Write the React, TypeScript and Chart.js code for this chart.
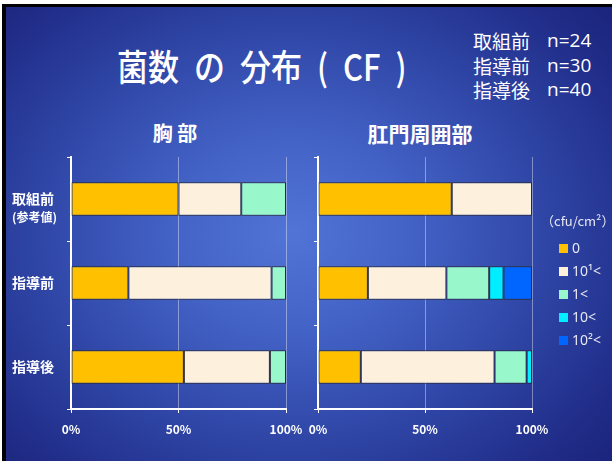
import React, { useEffect, useRef } from "react";
import { Chart, registerables } from "chart.js";

Chart.register(...registerables);

const categories = ["取組前", "指導前", "指導後"];
const legendLabels = ["0", "10¹<", "1<", "10<", "10²<"];
const seriesColors = ["#FFC000", "#FDF0DC", "#99F7CC", "#00EEFF", "#0066FF"];
const xTicks = [0, 50, 100];

// 胸部 (chest) percentages
const chest0 = [50, 26.7, 52.5];
const chest10_1 = [29.2, 66.6, 40];
const chest1 = [20.8, 6.7, 7.5];

// 肛門周囲部 (perianal) percentages
const anal0 = [62.5, 23.3, 20];
const anal10_1 = [37.5, 36.7, 62.5];
const anal1 = [null, 20, 15];
const anal10 = [null, 6.7, 2.5];
const anal10_2 = [null, 13.3, null];

const FONT = "'Noto Sans CJK JP', 'Noto Sans', sans-serif";

function makeDatasets(series: (number | null)[][]) {
  return series.map((data, i) => ({
    label: legendLabels[i],
    data,
    backgroundColor: seriesColors[i],
    borderColor: "#2a2a2a",
    borderWidth: 1,
    borderSkipped: false as const,
    categoryPercentage: 1,
    barPercentage: 0.4,
  }));
}

function BarPanel(props: {
  series: (number | null)[][];
  showLabels: boolean;
  left: number;
  width: number;
  padLeft: number;
  yWidth: number;
  padRight: number;
}) {
  const ref = useRef<HTMLCanvasElement | null>(null);
  useEffect(() => {
    if (!ref.current) return;
    const chart = new Chart(ref.current, {
      type: "bar",
      data: { labels: categories, datasets: makeDatasets(props.series) as any },
      options: {
        animation: false,
        responsive: false,
        indexAxis: "y",
        layout: { padding: { left: props.padLeft, top: 17, right: props.padRight, bottom: 0 } },
        plugins: { legend: { display: false }, tooltip: { enabled: false } },
        scales: {
          x: {
            stacked: true,
            min: 0,
            max: 100,
            afterBuildTicks: (s: any) => {
              s.ticks = xTicks.map((v) => ({ value: v }));
            },
            afterFit: (s: any) => {
              s.height = 31;
            },
            grid: {
              color: "rgba(255,255,255,0.4)",
              tickColor: "#ffffff",
              tickLength: 4,
              lineWidth: 1,
            },
            border: { color: "#ffffff", width: 2 },
            ticks: {
              color: "#ffffff",
              padding: 9,
              font: { family: FONT, size: 12, weight: "bold" },
              callback: (v: any) => v + "%",
            },
          },
          y: {
            stacked: true,
            afterFit: (s: any) => {
              s.width = props.yWidth;
            },
            grid: {
              drawOnChartArea: false,
              tickColor: "#ffffff",
              tickLength: 4,
              offset: true,
            },
            border: { color: "#ffffff", width: 2 },
            ticks: {
              display: props.showLabels,
              crossAlign: "far",
              color: "#ffffff",
              font: { family: FONT, size: 14, weight: "bold" },
            },
          },
        },
      } as any,
    });
    return () => chart.destroy();
  }, []);
  return (
    <canvas
      ref={ref}
      width={props.width}
      height={300}
      style={{ position: "absolute", left: props.left, top: 140, width: props.width, height: 300 }}
    />
  );
}

const txt = (extra: React.CSSProperties): React.CSSProperties => ({
  position: "absolute",
  color: "#ffffff",
  fontFamily: FONT,
  whiteSpace: "nowrap",
  lineHeight: 1,
  ...extra,
});

export default function App() {
  const nRows = [
    ["取組前", "n=24"],
    ["指導前", "n=30"],
    ["指導後", "n=40"],
  ];
  return (
    <div style={{ position: "fixed", left: 0, top: 0, width: 612, height: 461, background: "#ffffff", overflow: "hidden" }}>
      <div
        style={{
          position: "absolute",
          left: 2,
          top: 4,
          right: 0,
          bottom: 0,
          borderLeft: "4px solid #000",
          borderTop: "3px solid #000",
          background:
            "radial-gradient(ellipse 72% 78% at 47% 50%, #5274d6 0%, #4362c6 28%, #2f46a6 58%, #202c88 85%, #1a2379 100%)",
        }}
      />
      {/* Title */}
      <div style={txt({ left: 117, top: 65, fontSize: 31, fontWeight: 500, wordSpacing: 8, transform: "translateY(-50%) scaleY(1.18)" })}>
        菌数 の 分布 ( CF )
      </div>
      {/* n counts */}
      {nRows.map((r, i) => (
        <React.Fragment key={i}>
          <div style={txt({ left: 473, top: 40 + i * 24.5, fontSize: 19, transform: "translateY(-50%)" })}>{r[0]}</div>
          <div style={txt({ left: 547, top: 40 + i * 24.5, fontSize: 19, fontFamily: "'Open Sans', sans-serif", transform: "translateY(-50%)" })}>{r[1]}</div>
        </React.Fragment>
      ))}
      {/* Panel titles */}
      <div style={txt({ left: 175, top: 133, fontSize: 20, fontWeight: 700, transform: "translate(-50%,-50%)" })}>胸 部</div>
      <div style={txt({ left: 420, top: 133, fontSize: 21, fontWeight: 700, transform: "translate(-50%,-50%)" })}>肛門周囲部</div>

      <BarPanel series={[chest0, chest10_1, chest1]} showLabels={true} left={8} width={320} padLeft={4} yWidth={59} padRight={42} />
      <BarPanel series={[anal0, anal10_1, anal1, anal10, anal10_2]} showLabels={false} left={288} width={300} padLeft={0} yWidth={30} padRight={56} />

      <div style={txt({ left: 12, top: 217, fontSize: 12, fontWeight: 700, transform: "translateY(-50%)" })}>(参考値)</div>

      {/* Legend */}
      <div style={txt({ left: 541, top: 220, fontSize: 13, color: "#e6e8f2", transform: "translateY(-50%)" })}>（cfu/cm²）</div>
      {legendLabels.map((l, i) => (
        <React.Fragment key={l}>
          <div
            style={{
              position: "absolute",
              left: 559,
              top: 248 + i * 23 - 4.5,
              width: 9,
              height: 9,
              background: seriesColors[i],
            }}
          />
          <div style={txt({ left: 572, top: 248 + i * 23, fontSize: 14, color: "#e6e8f2", fontFamily: "'Noto Sans', sans-serif", transform: "translateY(-50%)" })}>
            {l}
          </div>
        </React.Fragment>
      ))}
    </div>
  );
}
